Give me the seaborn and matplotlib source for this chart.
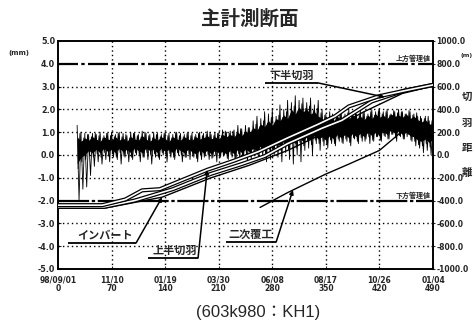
import numpy as np
import matplotlib
matplotlib.use("Agg")
import matplotlib.pyplot as plt
import matplotlib.patheffects as pe
import seaborn as sns
import pandas as pd

sns.set_style("ticks")
plt.rcParams['font.family'] = ['DejaVu Sans', 'Noto Sans CJK JP']
plt.rcParams['axes.unicode_minus'] = False

CJK = ['Noto Sans CJK JP', 'DejaVu Sans']

# ---------------- data ----------------
x_ticks = [0, 70, 140, 210, 280, 350, 420, 490]
x_labels = ["98/09/01\n0", "11/10\n70", "01/19\n140", "03/30\n210",
            "06/08\n280", "08/17\n350", "10/26\n420", "01/04\n490"]

# displacement trace (mm), sampled every 5 days from day 25 to 490
disp_days = list(range(25, 491, 5))
disp_hi = [1.3, 1.0, 0.95, 0.9, 0.95, 0.9, 1.0, 0.85, 0.95, 1.0,
           0.9, 1.0, 0.95, 0.85, 1.0, 0.95, 0.9, 1.05, 0.95, 0.9,
           1.0, 0.95, 0.9, 1.0, 0.95, 0.9, 1.0, 0.95, 0.9, 1.0,
           0.95, 0.9, 1.0, 0.95, 1.05, 0.9, 1.0, 0.95, 1.1, 1.0,
           1.05, 1.1, 1.3, 1.15, 1.3, 1.2, 1.5, 1.7, 1.6, 1.9,
           1.8, 2.0, 1.7, 2.2, 2.0, 2.4, 2.3, 2.6, 2.4, 2.5,
           2.3, 2.5, 2.2, 2.4, 2.0, 1.8, 1.9, 1.7, 1.8, 1.9,
           1.8, 2.0, 1.9, 1.8, 2.0, 1.9, 1.8, 2.0, 1.9, 2.0,
           1.9, 2.0, 1.8, 1.9, 2.0, 1.9, 1.8, 1.9, 1.8, 1.7,
           1.6, 1.7, 1.5, 1.4]
disp_lo = [-2.0, -1.5, -1.4, -0.9, -0.5, -0.3, -0.4, -0.2, -0.3, -0.1,
           -0.2, -0.4, -0.1, -0.3, -0.2, 0.0, -0.3, -0.1, -0.2, -0.4,
           -0.1, -0.2, 0.0, -0.3, -0.1, -0.2, 0.0, -0.3, -0.1, -0.2,
           -0.1, -0.3, -0.2, 0.0, -0.2, -0.1, -0.3, -0.1, 0.0, -0.2,
           -0.1, -0.3, -0.2, -0.1, -0.3, -0.2, 0.0, -0.2, -0.1, -0.3,
           -0.2, 0.0, -0.1, -0.3, 0.1, -0.2, -0.4, 0.0, -0.3, 0.2,
           0.3, 0.0, 0.5, 0.2, 0.4, 0.3, 0.5, 0.4, 0.6, 0.5,
           0.6, 0.4, 0.7, 0.5, 0.6, 0.7, 0.5, 0.6, 0.8, 0.6,
           0.8, 0.7, 0.9, 0.6, 0.8, 0.7, 0.9, 0.6, 0.4, 0.3,
           0.1, 0.2, 0.0, 0.3]
core_hi = [0.8, 0.6, 0.75, 0.65, 0.8, 0.7, 0.6, 0.8, 0.7, 0.65,
           0.8, 0.65, 0.75, 0.6, 0.8, 0.7, 0.65, 0.85, 0.7, 0.6,
           0.75, 0.65, 0.8, 0.7, 0.6, 0.8, 0.7, 0.65, 0.8, 0.7,
           0.65, 0.8, 0.7, 0.75, 0.85, 0.7, 0.8, 0.7, 0.9, 0.8,
           0.9, 0.8, 1.0, 0.85, 1.05, 0.95, 1.2, 1.1, 1.35, 1.25,
           1.5, 1.3, 1.6, 1.5, 1.75, 1.6, 2.0, 1.8, 2.1, 1.9,
           2.0, 1.8, 1.9, 1.7, 1.6, 1.4, 1.65, 1.5, 1.7, 1.55,
           1.7, 1.55, 1.75, 1.6, 1.7, 1.55, 1.75, 1.6, 1.8, 1.65,
           1.75, 1.6, 1.8, 1.7, 1.75, 1.65, 1.8, 1.6, 1.7, 1.55,
           1.45, 1.55, 1.35, 1.3]
core_lo = [-0.4, -0.1, 0.0, 0.2, 0.1, 0.25, 0.1, 0.3, 0.15, 0.25,
           0.1, 0.3, 0.15, 0.25, 0.1, 0.3, 0.2, 0.1, 0.3, 0.2,
           0.25, 0.1, 0.3, 0.15, 0.25, 0.1, 0.3, 0.2, 0.1, 0.25,
           0.15, 0.05, 0.2, 0.1, 0.2, 0.05, 0.2, 0.1, 0.15, 0.05,
           0.2, 0.05, 0.25, 0.1, 0.25, 0.15, 0.3, 0.2, 0.4, 0.25,
           0.45, 0.3, 0.55, 0.4, 0.6, 0.45, 0.7, 0.5, 0.75, 0.6,
           0.8, 0.65, 0.85, 0.7, 0.8, 0.65, 0.85, 0.7, 0.9, 0.75,
           0.9, 0.75, 0.95, 0.8, 0.95, 0.8, 1.0, 0.85, 1.0, 0.85,
           1.05, 0.9, 1.1, 0.95, 1.05, 0.9, 1.0, 0.85, 0.8, 0.65,
           0.6, 0.7, 0.55, 0.7]

# face distances (m)
upper_days = [0, 58, 88, 110, 133, 195, 230, 262, 300, 340, 362, 380, 418, 450, 490]
upper_dist = [-440, -440, -390, -310, -300, -130, -50, 30, 150, 270, 340, 426, 513, 560, 615]
lower_days = [0, 60, 100, 135, 150, 200, 240, 270, 300, 345, 371, 410, 453, 490]
lower_dist = [-455, -455, -400, -330, -300, -165, -80, -10, 100, 235, 304, 470, 565, 615]
invert_days = [0, 62, 136, 200, 250, 300, 350, 400, 450, 490]
invert_dist = [-465, -465, -370, -200, -90, 40, 200, 380, 540, 605]
lining_days = [264, 300, 349, 380, 420, 450, 490]
lining_dist = [-460, -330, -170, -80, 40, 210, 265]

upper_limit = 4.0
lower_limit = -2.0

# ---------------- figure ----------------
fig = plt.figure(figsize=(4.77, 3.31), dpi=100)
ax = fig.add_axes([58/477, 62/331, 375/477, 228/331])
ax.set_xlim(0, 490)
ax.set_ylim(-5, 5)
ax2 = ax.twinx()
ax2.set_ylim(-1000, 1000)

# grid
for xv in x_ticks[1:-1]:
    ax.axvline(xv, color='black', lw=1.0, ls=(0, (1, 2.2)), zorder=1)
for yv in range(-4, 5):
    if yv in (4, -2):
        continue
    ax.axhline(yv, color='black', lw=1.0, ls=(0, (1, 2.2)), zorder=1)

# management lines
ax.axhline(upper_limit, color='black', lw=1.6, dashes=(9, 1.5, 1.5, 1.5), zorder=2)
ax.axhline(lower_limit, color='black', lw=1.6, dashes=(14, 1.2, 1.5, 1.2), zorder=2)
ax.text(487, upper_limit + 0.06, "上方管理値", family=CJK, fontsize=5,
        ha='right', va='bottom', fontweight='bold')
ax.text(487, lower_limit + 0.06, "下方管理値", family=CJK, fontsize=5,
        ha='right', va='bottom', fontweight='bold')

# displacement trace
d = np.array(disp_days, dtype=float)
zx = np.empty(2 * len(d))
zy = np.empty(2 * len(d))
zx[0::2] = d
zx[1::2] = d + 2.5
zy[0::2] = disp_hi
zy[1::2] = disp_lo
ax.plot(zx, zy, color='black', lw=0.6, zorder=3)
cx = np.empty(2 * len(d))
cy = np.empty(2 * len(d))
cx[0::2] = d + 1.2
cx[1::2] = d + 3.7
cy[0::2] = np.array(core_lo) - 0.2
cy[1::2] = np.array(core_hi) + 0.15
ax.plot(cx, cy, color='black', lw=0.6, zorder=3)
ax.fill_between(d, core_lo, core_hi, color='black', lw=0, zorder=3)
ax.plot([0, disp_days[0]], [lower_limit, lower_limit], color='black', lw=1.2, zorder=3)

# face distance lines
outline = [pe.Stroke(linewidth=3.0, foreground='black'), pe.Normal()]
df_up = pd.DataFrame({'day': upper_days, 'dist': upper_dist})
df_lo = pd.DataFrame({'day': lower_days, 'dist': lower_dist})
df_inv = pd.DataFrame({'day': invert_days, 'dist': invert_dist})
df_lin = pd.DataFrame({'day': lining_days, 'dist': lining_dist})
sns.lineplot(data=df_inv, x='day', y='dist', ax=ax2, color='black', lw=1.0,
             estimator=None, sort=False, zorder=4)
l1 = sns.lineplot(data=df_lo, x='day', y='dist', ax=ax2, color='white', lw=1.2,
                  estimator=None, sort=False, zorder=5).lines[-1]
l1.set_path_effects(outline)
l2 = sns.lineplot(data=df_up, x='day', y='dist', ax=ax2, color='white', lw=1.2,
                  estimator=None, sort=False, zorder=6).lines[-1]
l2.set_path_effects(outline)
sns.lineplot(data=df_lin, x='day', y='dist', ax=ax2, color='black', lw=1.0,
             estimator=None, sort=False, zorder=4)
ax2.set_xlabel("")
ax2.set_ylabel("")
ax.set_xlim(0, 490)

# annotations (ax2 coordinates: day, metres)
def label(text, tx, ru, x1, x2, tday, tdays, tdists):
    ty = float(np.interp(tday, tdays, tdists))
    ax2.text(tx, ru + 12, text, family=CJK, fontsize=8, fontweight='bold',
             ha='center', va='bottom', zorder=8)
    ax2.plot([x1, x2], [ru, ru], color='black', lw=1.3, zorder=8,
             solid_capstyle='butt')
    ax2.annotate('', xy=(tday, ty), xytext=(x2, ru),
                 arrowprops=dict(arrowstyle='-|>', lw=1.1, color='black',
                                 mutation_scale=6, shrinkA=0, shrinkB=0),
                 zorder=8)

label("インバート", 62, -772, 13, 102, 136, invert_days, invert_dist)
label("上半切羽", 152, -904, 118, 183, 195, upper_days, upper_dist)
label("二次覆工", 252, -764, 220, 285, 307, lining_days, lining_dist)
label("下半切羽", 306, 632, 270, 340, 427, lower_days, lower_dist)

# axes styling
for a in (ax, ax2):
    for s in a.spines.values():
        s.set_color('black')
        s.set_linewidth(1.2)
ax.set_xticks(x_ticks)
ax.set_xticklabels(x_labels, fontsize=5.5, fontweight='bold', linespacing=0.9)
ax.set_yticks(range(-5, 6))
ax.set_yticklabels([f"{v:.1f}" for v in range(-5, 6)], fontsize=5.8, fontweight='bold')
ax2.set_yticks(range(-1000, 1001, 200))
ax2.set_yticklabels([f"{v:.1f}" for v in range(-1000, 1001, 200)],
                    fontsize=5.5, fontweight='bold')
ax.tick_params(axis='x', direction='in', length=2, width=0.8, pad=4.5)
ax.tick_params(axis='y', direction='in', length=2, width=0.8, pad=2)
ax2.tick_params(axis='y', direction='inout', length=3, width=0.8, pad=1)

# texts around the chart
fig.text(250/477, 1 - 19/331, "主計測断面", family=CJK, fontsize=14,
         fontweight='bold', ha='center', va='center')
fig.text(258/477, 1 - 313/331, "(603k980：KH1)",
         family=['Liberation Sans', 'Noto Sans CJK JP'], fontsize=12,
         ha='center', va='center')
fig.text(8/477, 1 - 53/331, "(mm)", fontsize=5, fontweight='bold',
         ha='left', va='center')
fig.text(467/477, 1 - 55/331, "(m)", fontsize=4.5, fontweight='bold',
         ha='center', va='center')
for ch, yp in zip("切羽距離", [97, 123, 148, 173]):
    fig.text(467/477, 1 - yp/331, ch, family=CJK, fontsize=7.5,
             fontweight='bold', ha='center', va='center')

fig.savefig("out.png", dpi=100)
